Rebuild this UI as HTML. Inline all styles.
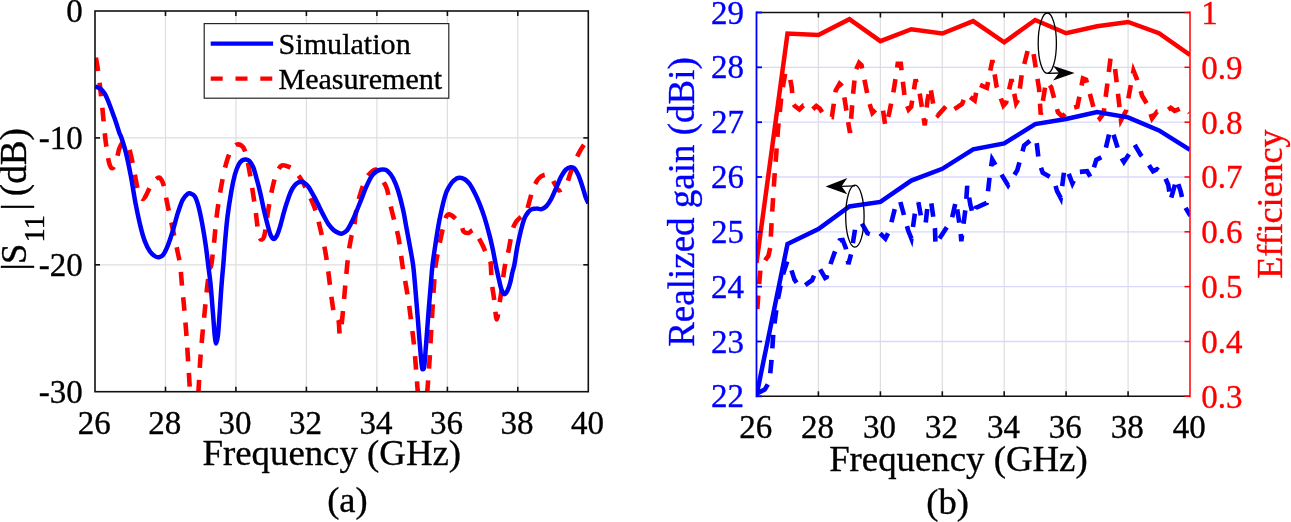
<!DOCTYPE html>
<html lang="en"><head><meta charset="utf-8"><title>S11, realized gain and efficiency</title>
<style>html,body{margin:0;padding:0;background:#fff}body{width:1291px;height:522px;overflow:hidden}svg{display:block}text{font-family:"Liberation Serif",serif}</style>
</head><body>
<svg width="1291" height="522" viewBox="0 0 1291 522">
<rect width="1291" height="522" fill="#fff"/>
<defs><clipPath id="cl"><rect x="95.0" y="11.0" width="493.3" height="380.7"/></clipPath><clipPath id="cr"><rect x="756.5" y="12.5" width="433.5" height="383.8"/></clipPath></defs>
<g stroke="#dedede" stroke-width="1.2">
<line x1="165.5" y1="11.0" x2="165.5" y2="391.7"/>
<line x1="235.9" y1="11.0" x2="235.9" y2="391.7"/>
<line x1="306.4" y1="11.0" x2="306.4" y2="391.7"/>
<line x1="376.9" y1="11.0" x2="376.9" y2="391.7"/>
<line x1="447.4" y1="11.0" x2="447.4" y2="391.7"/>
<line x1="517.8" y1="11.0" x2="517.8" y2="391.7"/>
<line x1="95.0" y1="137.9" x2="588.3" y2="137.9"/>
<line x1="95.0" y1="264.8" x2="588.3" y2="264.8"/>
</g>
<g clip-path="url(#cl)" fill="none" stroke-linejoin="round">
<path d="M95.2 53.8 C95.7 57.2 97.5 65.9 98.6 74.5 C99.8 83.1 100.9 94.6 102.1 105.5 C103.2 116.4 104.4 130.5 105.5 140.0 C106.7 149.5 107.8 157.7 109.0 162.4 C110.1 167.1 111.3 168.3 112.4 168.3 C113.6 168.3 114.7 165.7 115.9 162.4 C117.0 159.1 118.2 151.9 119.3 148.6 C120.5 145.3 121.3 143.3 122.8 142.8 C124.2 142.2 126.5 142.8 127.9 145.2 C129.4 147.6 130.2 152.4 131.4 157.2 C132.5 162.1 133.7 168.7 134.8 174.5 C136.0 180.2 137.1 187.7 138.3 191.7 C139.4 195.7 140.6 197.8 141.7 198.6 C142.9 199.5 143.7 198.9 145.2 196.9 C146.6 194.9 148.6 189.4 150.3 186.6 C152.1 183.7 153.9 181.1 155.5 179.7 C157.1 178.2 158.6 176.8 160.0 177.9 C161.4 179.1 163.0 182.7 164.1 186.6 C165.3 190.4 165.7 196.0 166.8 201.3 C167.8 206.6 169.2 212.6 170.4 218.3 C171.7 224.0 172.9 229.7 174.1 235.3 C175.3 241.0 176.7 247.4 177.7 252.4 C178.8 257.3 179.5 259.7 180.2 265.0 C180.9 270.4 181.3 278.0 181.9 284.5 C182.5 291.0 183.2 297.4 183.8 303.9 C184.4 310.4 185.0 316.9 185.5 323.4 C186.1 329.9 186.5 336.4 187.0 342.9 C187.4 349.4 187.8 355.9 188.2 362.3 C188.6 368.8 189.1 376.1 189.4 381.8 C189.8 387.5 190.0 394.0 190.2 396.4" stroke="#ff0000" stroke-width="4.6" stroke-dasharray="13.6 11.7" stroke-dashoffset="-4"/>
<path d="M198.2 396.4 C198.5 390.7 199.5 372.1 200.1 362.3 C200.8 352.6 201.4 346.1 202.1 338.0 C202.8 329.9 203.7 321.8 204.5 313.7 C205.3 305.6 206.1 296.6 206.9 289.3 C207.8 282.0 208.7 273.9 209.4 269.9 C210.1 265.8 210.5 269.9 211.3 265.0 C212.1 260.1 213.4 248.4 214.3 240.2 C215.1 232.0 215.7 224.0 216.7 215.9 C217.7 207.8 219.1 198.8 220.3 191.5 C221.6 184.2 222.8 177.5 224.0 172.1 C225.2 166.6 226.4 162.3 227.6 158.7 C228.9 155.0 229.9 152.5 231.3 150.2 C232.7 147.9 234.5 145.6 236.2 144.8 C237.8 144.0 239.6 144.4 241.0 145.3 C242.4 146.2 243.5 146.9 244.7 150.2 C245.9 153.4 247.1 158.7 248.3 164.8 C249.5 170.9 250.8 179.0 252.0 186.7 C253.2 194.4 254.6 203.7 255.6 211.0 C256.6 218.3 257.2 225.8 258.1 230.5 C258.9 235.1 259.5 238.0 260.5 239.0 C261.5 240.0 263.1 239.6 264.1 236.6 C265.2 233.5 265.6 227.0 266.6 220.7 C267.6 214.5 269.0 205.3 270.2 198.8 C271.4 192.4 272.7 186.5 273.9 181.8 C275.1 177.1 276.1 173.6 277.5 170.9 C278.9 168.1 280.4 165.9 282.4 165.3 C284.4 164.6 287.7 166.3 289.7 167.2 C291.7 168.1 292.5 168.6 294.6 170.9 C296.6 173.1 299.4 176.5 301.9 180.6 C304.3 184.6 307.1 190.9 309.2 195.2 C311.2 199.5 312.6 202.3 314.0 206.1 C315.5 210.0 316.5 213.8 317.7 218.3 C318.9 222.8 320.1 227.6 321.3 232.9 C322.5 238.2 324.0 244.6 325.0 249.9 C326.0 255.3 326.7 259.9 327.4 265.0 C328.2 270.1 328.7 274.9 329.4 280.6 C330.1 286.2 331.0 293.4 331.7 299.0 C332.5 304.5 333.3 310.7 334.0 313.9 C334.8 317.2 335.6 317.4 336.3 318.5 C337.1 319.7 338.0 318.1 338.6 320.8 C339.2 323.5 339.3 334.0 339.8 334.6 C340.3 335.2 341.0 328.7 341.6 324.3 C342.2 319.8 342.6 315.1 343.2 308.2 C343.9 301.3 344.7 291.7 345.5 282.9 C346.4 274.1 347.3 263.0 348.3 255.3 C349.2 247.6 350.4 241.1 351.3 236.9 C352.1 232.7 352.7 234.7 353.6 230.0 C354.5 225.3 355.5 214.6 356.6 208.6 C357.7 202.6 358.8 198.6 360.3 194.0 C361.7 189.3 363.5 184.0 365.1 180.6 C366.7 177.1 368.2 175.1 370.0 173.3 C371.8 171.5 374.4 169.4 376.1 169.6 C377.7 169.8 378.5 172.5 379.7 174.5 C380.9 176.5 382.2 179.4 383.4 181.8 C384.6 184.2 385.8 185.1 387.0 189.1 C388.2 193.2 389.5 200.9 390.7 206.1 C391.9 211.4 393.1 215.9 394.3 220.7 C395.5 225.6 397.0 230.5 398.0 235.3 C399.0 240.2 399.7 245.0 400.4 249.9 C401.1 254.9 401.5 259.3 402.4 265.0 C403.2 270.8 404.7 278.0 405.8 284.5 C406.9 291.0 408.0 297.4 408.9 303.9 C409.9 310.4 410.5 316.9 411.4 323.4 C412.2 329.9 413.1 336.4 413.8 342.9 C414.5 349.4 415.0 355.9 415.5 362.3 C416.0 368.8 416.5 376.1 417.0 381.8 C417.4 387.5 418.0 394.0 418.2 396.4" stroke="#ff0000" stroke-width="4.6" stroke-dasharray="13.6 11.7" stroke-dashoffset="-3"/>
<path d="M426.9 396.4 C427.3 391.6 428.5 376.9 429.1 367.2 C429.8 357.5 430.3 347.7 430.8 338.0 C431.4 328.3 432.0 317.7 432.5 308.8 C433.1 299.9 433.5 291.8 434.0 284.5 C434.5 277.2 434.8 271.6 435.7 265.0 C436.6 258.4 438.1 251.2 439.3 245.1 C440.6 238.9 441.8 232.9 443.0 228.0 C444.2 223.2 445.4 218.1 446.6 215.9 C447.9 213.6 448.9 214.3 450.3 214.7 C451.7 215.1 453.3 216.5 455.2 218.3 C457.0 220.1 459.8 223.4 461.3 225.6 C462.7 227.8 462.5 230.5 463.7 231.7 C464.9 232.9 466.9 233.2 468.6 232.9 C470.2 232.6 472.0 229.6 473.4 230.0 C474.8 230.4 475.6 233.0 477.1 235.3 C478.5 237.7 480.3 240.6 481.9 243.9 C483.6 247.1 485.4 251.8 486.8 254.8 C488.2 257.9 489.6 257.6 490.5 262.1 C491.3 266.7 491.1 275.9 491.7 282.0 C492.3 288.2 493.3 292.8 494.1 299.1 C495.0 305.3 495.8 319.5 496.8 319.5 C497.8 319.5 499.2 305.3 500.2 299.1 C501.2 292.8 501.8 287.7 502.6 282.0 C503.4 276.4 504.0 270.3 505.1 265.0 C506.1 259.7 507.5 255.7 508.7 249.9 C509.9 244.2 511.1 235.1 512.4 230.5 C513.6 225.8 514.6 224.2 516.0 222.0 C517.4 219.7 519.3 218.5 520.9 217.1 C522.5 215.7 524.3 216.1 525.7 213.4 C527.2 210.8 528.2 205.3 529.4 201.3 C530.6 197.2 531.6 192.8 533.0 189.1 C534.5 185.5 536.1 181.7 537.9 179.4 C539.7 177.0 542.0 175.6 544.0 175.0 C546.0 174.4 548.3 174.2 550.1 175.7 C551.9 177.3 553.5 181.8 554.9 184.2 C556.4 186.7 557.2 189.7 558.6 190.3 C560.0 190.9 562.0 189.1 563.5 187.9 C564.9 186.7 565.9 185.7 567.1 183.0 C568.3 180.4 569.3 175.9 570.8 172.1 C572.2 168.2 574.0 163.6 575.6 159.9 C577.3 156.3 578.9 153.0 580.5 150.2 C582.1 147.3 584.2 144.6 585.4 142.9 C586.5 141.2 587.0 140.4 587.3 139.9" stroke="#ff0000" stroke-width="4.6" stroke-dasharray="13.6 11.7" stroke-dashoffset="-2.5"/>
<path d="M95.0 86.4 C95.8 86.8 98.2 87.2 99.9 88.4 C101.5 89.6 103.1 91.0 104.7 93.7 C106.4 96.5 108.0 100.6 109.6 104.7 C111.2 108.8 112.8 113.4 114.5 118.1 C116.1 122.7 118.2 129.4 119.3 132.7 C120.5 136.0 120.4 134.7 121.5 138.0 C122.6 141.3 124.3 146.1 125.9 152.6 C127.5 159.1 129.4 168.4 131.0 176.9 C132.6 185.5 134.1 195.6 135.6 203.7 C137.2 211.8 138.7 219.3 140.3 225.6 C141.8 231.9 143.3 237.2 144.9 241.4 C146.5 245.7 148.1 248.7 149.8 251.2 C151.4 253.6 153.1 255.0 154.6 256.0 C156.1 257.0 157.3 257.5 158.8 257.3 C160.2 257.0 161.6 256.8 163.1 254.8 C164.7 252.8 166.4 249.1 168.0 245.1 C169.6 241.0 171.3 235.8 172.9 230.5 C174.5 225.2 176.1 218.5 177.7 213.4 C179.4 208.4 181.0 203.3 182.6 200.1 C184.2 196.8 186.1 195.1 187.5 194.0 C188.8 192.9 189.4 193.1 190.6 193.5 C191.9 193.9 193.5 194.3 194.8 196.4 C196.1 198.5 197.2 201.7 198.4 206.1 C199.6 210.6 200.9 216.7 202.1 223.2 C203.3 229.7 204.7 238.1 205.7 245.1 C206.7 252.1 207.4 258.4 208.2 265.0 C209.0 271.6 209.8 276.4 210.6 284.5 C211.4 292.6 212.3 305.2 213.0 313.7 C213.7 322.2 214.2 330.6 214.7 335.6 C215.3 340.5 215.7 343.4 216.2 343.4 C216.7 343.4 217.3 340.5 217.9 335.6 C218.5 330.6 219.0 322.2 219.6 313.7 C220.2 305.2 220.9 292.6 221.6 284.5 C222.2 276.4 222.6 272.4 223.3 265.0 C223.9 257.6 224.5 248.4 225.2 240.2 C225.9 232.0 226.6 224.0 227.6 215.9 C228.6 207.8 230.1 198.4 231.3 191.5 C232.5 184.6 233.7 179.0 234.9 174.5 C236.2 170.0 237.4 167.1 238.6 164.8 C239.8 162.4 241.0 161.3 242.2 160.4 C243.5 159.5 244.7 159.3 245.9 159.4 C247.1 159.5 248.3 159.8 249.5 161.1 C250.8 162.4 252.0 164.2 253.2 167.2 C254.4 170.2 255.6 174.9 256.8 179.4 C258.1 183.8 259.3 188.7 260.5 194.0 C261.7 199.2 262.9 205.7 264.1 211.0 C265.4 216.3 266.7 221.6 267.8 225.6 C268.9 229.7 269.7 233.1 270.7 235.3 C271.7 237.6 272.8 239.0 273.9 239.0 C274.9 239.0 276.0 237.4 277.0 235.3 C278.1 233.3 278.9 230.5 280.0 226.8 C281.1 223.2 282.4 217.7 283.6 213.4 C284.8 209.2 286.0 204.9 287.3 201.3 C288.5 197.6 289.7 194.2 290.9 191.5 C292.1 188.9 293.3 187.0 294.6 185.5 C295.8 184.0 297.0 183.1 298.2 182.5 C299.4 181.9 300.6 181.6 301.9 181.8 C303.1 182.0 304.3 182.7 305.5 183.8 C306.7 184.8 307.7 185.8 309.2 187.9 C310.6 190.0 312.4 193.4 314.0 196.4 C315.7 199.5 317.3 202.9 318.9 206.1 C320.5 209.4 322.1 212.8 323.8 215.9 C325.4 218.9 327.0 222.0 328.6 224.4 C330.3 226.7 331.9 228.6 333.5 230.0 C335.1 231.4 337.0 232.3 338.4 232.9 C339.8 233.5 340.6 234.0 342.0 233.6 C343.4 233.2 345.2 232.4 346.9 230.5 C348.5 228.5 350.1 225.2 351.7 222.0 C353.4 218.7 355.0 214.9 356.6 211.0 C358.2 207.2 359.8 202.9 361.5 198.8 C363.1 194.8 364.7 190.3 366.3 186.7 C368.0 183.0 369.6 179.5 371.2 176.9 C372.8 174.4 374.4 172.8 376.1 171.6 C377.7 170.4 379.5 170.0 380.9 169.6 C382.4 169.3 383.4 169.3 384.6 169.6 C385.8 170.0 386.8 170.2 388.2 171.6 C389.7 173.0 391.5 175.0 393.1 178.2 C394.7 181.3 396.4 185.3 398.0 190.3 C399.6 195.4 401.4 202.3 402.8 208.6 C404.3 214.9 405.3 221.6 406.5 228.0 C407.7 234.5 409.0 241.4 410.1 247.5 C411.2 253.7 412.3 258.8 413.1 265.0 C413.9 271.2 414.3 276.4 415.0 284.5 C415.7 292.6 416.6 303.5 417.4 313.7 C418.3 323.8 419.1 336.6 419.9 345.3 C420.6 354.0 421.3 362.0 421.8 366.0 C422.3 370.0 422.4 369.2 422.8 369.2 C423.2 369.2 423.7 370.0 424.3 366.0 C424.8 362.0 425.3 354.0 426.0 345.3 C426.7 336.6 427.6 323.8 428.4 313.7 C429.2 303.5 430.1 292.6 430.8 284.5 C431.5 276.4 431.7 272.0 432.5 265.0 C433.3 258.0 434.6 250.0 435.7 242.6 C436.8 235.3 438.1 227.2 439.3 220.7 C440.6 214.3 441.8 208.6 443.0 203.7 C444.2 198.8 445.2 195.0 446.6 191.5 C448.1 188.1 449.9 185.2 451.5 183.0 C453.1 180.9 454.9 179.5 456.4 178.6 C457.9 177.8 459.1 177.5 460.5 177.7 C461.9 177.8 463.4 178.3 464.9 179.4 C466.4 180.5 468.1 182.0 469.8 184.2 C471.4 186.5 473.0 189.5 474.6 192.8 C476.3 196.0 477.9 199.7 479.5 203.7 C481.1 207.8 482.7 212.0 484.4 217.1 C486.0 222.2 487.8 228.7 489.2 234.1 C490.7 239.6 491.8 244.8 492.9 249.9 C494.0 255.1 494.8 260.1 495.8 265.0 C496.8 269.9 498.0 275.5 499.0 279.6 C499.9 283.7 500.5 286.9 501.4 289.3 C502.3 291.8 503.3 294.0 504.3 294.2 C505.3 294.4 506.5 292.6 507.5 290.6 C508.5 288.5 509.6 285.1 510.4 282.0 C511.2 279.0 511.7 275.1 512.4 272.3 C513.0 269.5 513.5 269.1 514.3 265.0 C515.1 260.9 516.1 253.3 517.2 247.5 C518.3 241.8 519.7 235.3 520.9 230.5 C522.1 225.6 523.3 221.4 524.5 218.3 C525.7 215.3 527.0 213.7 528.2 212.2 C529.4 210.7 530.4 209.9 531.8 209.3 C533.2 208.7 535.1 208.6 536.7 208.6 C538.3 208.5 539.9 209.5 541.6 209.1 C543.2 208.7 544.8 207.8 546.4 206.1 C548.1 204.4 549.7 201.9 551.3 198.8 C552.9 195.8 554.5 191.5 556.2 187.9 C557.8 184.2 559.4 180.0 561.0 176.9 C562.7 173.9 564.3 171.3 565.9 169.6 C567.5 168.0 569.3 167.4 570.8 167.2 C572.2 167.0 573.2 167.2 574.4 168.4 C575.6 169.6 576.9 171.9 578.1 174.5 C579.3 177.1 580.5 180.6 581.7 184.2 C582.9 187.9 584.3 193.2 585.4 196.4 C586.5 199.6 587.8 202.1 588.3 203.2" stroke="#0000ff" stroke-width="4.5"/>
</g>
<g stroke="#111" stroke-width="1.6" fill="none">
<rect x="95.0" y="11.0" width="493.3" height="380.7"/>
<line x1="165.5" y1="391.7" x2="165.5" y2="386.7"/>
<line x1="165.5" y1="11.0" x2="165.5" y2="16.0"/>
<line x1="235.9" y1="391.7" x2="235.9" y2="386.7"/>
<line x1="235.9" y1="11.0" x2="235.9" y2="16.0"/>
<line x1="306.4" y1="391.7" x2="306.4" y2="386.7"/>
<line x1="306.4" y1="11.0" x2="306.4" y2="16.0"/>
<line x1="376.9" y1="391.7" x2="376.9" y2="386.7"/>
<line x1="376.9" y1="11.0" x2="376.9" y2="16.0"/>
<line x1="447.4" y1="391.7" x2="447.4" y2="386.7"/>
<line x1="447.4" y1="11.0" x2="447.4" y2="16.0"/>
<line x1="517.8" y1="391.7" x2="517.8" y2="386.7"/>
<line x1="517.8" y1="11.0" x2="517.8" y2="16.0"/>
<line x1="95.0" y1="137.9" x2="100.0" y2="137.9"/>
<line x1="588.3" y1="137.9" x2="583.3" y2="137.9"/>
<line x1="95.0" y1="264.8" x2="100.0" y2="264.8"/>
<line x1="588.3" y1="264.8" x2="583.3" y2="264.8"/>
</g>
<rect x="204.2" y="23.6" width="244.6" height="74.6" fill="#fff" stroke="#262626" stroke-width="1.2"/>
<line x1="210.7" y1="43.6" x2="273.1" y2="43.6" stroke="#0000ff" stroke-width="4.2"/>
<line x1="210.7" y1="78.6" x2="273.1" y2="78.6" stroke="#ff0000" stroke-width="4.2" stroke-dasharray="12 12.8"/>
<g font-size="30.1" fill="#000" stroke="#000" stroke-width="0.35"><text x="278.6" y="54.3">Simulation</text><text x="278.4" y="88.9">Measurement</text></g>
<g font-size="33" fill="#000" stroke="#000" stroke-width="0.35">
<text x="94.2" y="433.8" text-anchor="middle">26</text>
<text x="164.7" y="433.8" text-anchor="middle">28</text>
<text x="235.1" y="433.8" text-anchor="middle">30</text>
<text x="305.6" y="433.8" text-anchor="middle">32</text>
<text x="376.1" y="433.8" text-anchor="middle">34</text>
<text x="446.6" y="433.8" text-anchor="middle">36</text>
<text x="517.0" y="433.8" text-anchor="middle">38</text>
<text x="587.5" y="433.8" text-anchor="middle">40</text>
<text x="82.8" y="22.0" text-anchor="end">0</text>
<text x="82.8" y="148.9" text-anchor="end">-10</text>
<text x="82.8" y="275.8" text-anchor="end">-20</text>
<text x="82.8" y="402.7" text-anchor="end">-30</text>
</g>
<g font-size="36.5" fill="#000" stroke="#000" stroke-width="0.35">
<text x="331.8" y="465.3" text-anchor="middle" font-size="36.8">Frequency (GHz)</text>
<text x="347.4" y="512.4" text-anchor="middle">(a)</text>
<text transform="translate(26 268) rotate(-90)"><tspan x="-2.6">|</tspan><tspan x="4.1">S</tspan><tspan x="25.6" dy="17.5" font-size="28.5">11</tspan><tspan x="57.5" dy="-17.5">|</tspan><tspan x="71.8" font-size="37.2">(dB)</tspan></text>
</g>
<g stroke="#dedede" stroke-width="1.2">
<line x1="818.4" y1="12.5" x2="818.4" y2="396.3"/>
<line x1="880.4" y1="12.5" x2="880.4" y2="396.3"/>
<line x1="942.3" y1="12.5" x2="942.3" y2="396.3"/>
<line x1="1004.2" y1="12.5" x2="1004.2" y2="396.3"/>
<line x1="1066.1" y1="12.5" x2="1066.1" y2="396.3"/>
<line x1="1128.1" y1="12.5" x2="1128.1" y2="396.3"/>
</g><g stroke="#d8d8ff" stroke-width="1.3">
<line x1="756.5" y1="341.5" x2="1190.0" y2="341.5"/>
<line x1="756.5" y1="286.6" x2="1190.0" y2="286.6"/>
<line x1="756.5" y1="231.8" x2="1190.0" y2="231.8"/>
<line x1="756.5" y1="177.0" x2="1190.0" y2="177.0"/>
<line x1="756.5" y1="122.2" x2="1190.0" y2="122.2"/>
<line x1="756.5" y1="67.3" x2="1190.0" y2="67.3"/>
</g>
<g clip-path="url(#cr)" fill="none" stroke-linejoin="miter">
<path d="M757.3 309.0 L758.5 292.0 L759.5 280.0 L760.5 269.0 L766.0 259.0 L768.4 256.0 L770.2 248.0 L772.0 215.0 L774.8 172.0 L776.4 152.0 L778.0 129.0 L781.0 100.0 L783.5 83.0 L785.5 72.0 L789.6 75.9 L791.7 87.1 L793.1 103.4 L794.8 106.0 L799.4 109.5 L803.4 105.5 L807.2 105.2 L812.0 110.0 L816.3 106.0 L819.8 108.6 L824.1 115.5 L831.9 116.9 L835.7 90.5 L839.6 83.6 L842.7 86.6 L848.2 122.4 L850.0 132.8 L852.9 95.7 L855.5 70.7 L859.1 62.9 L861.5 65.2 L868.9 101.7 L872.4 112.9 L878.8 106.6 L882.7 107.8 L885.3 125.9 L889.1 113.8 L893.9 89.3 L897.7 63.8 L900.8 63.8 L905.1 100.9 L908.6 109.5 L911.2 106.6 L915.6 79.3 L919.5 92.4 L924.8 125.3 L927.6 99.3 L930.3 86.7 L934.5 112.0 L937.9 115.4 L947.1 105.1 L952.9 110.1 L962.1 103.9 L966.2 94.0 L974.7 100.5 L977.7 83.9 L986.9 87.8 L992.4 60.2 L996.6 86.7 L1003.4 105.5 L1006.2 102.3 L1011.5 79.3 L1016.1 103.2 L1018.4 99.3 L1021.8 74.0 L1028.3 48.0 L1033.3 52.2 L1039.1 89.0 L1040.7 114.7 L1046.0 81.6 L1047.5 82.3 L1051.2 87.3 L1057.9 112.2 L1062.4 116.7 L1070.4 108.4 L1077.4 106.7 L1082.9 78.5 L1086.1 79.8 L1094.8 112.2 L1099.8 118.4 L1103.6 113.4 L1110.5 58.6 L1114.8 66.1 L1121.0 120.2 L1126.0 110.9 L1133.5 70.6 L1137.2 79.8 L1142.2 96.0 L1147.2 104.2 L1152.1 118.4 L1157.1 111.7 L1164.6 112.2 L1170.8 107.9 L1174.6 110.9 L1180.8 108.4 L1184.5 107.2 L1189.5 112.7" stroke="#ff0000" stroke-width="4.6" stroke-dasharray="13.5 11.5"/>
<path d="M756.5 263.0 L787.5 33.6 L818.4 34.9 L849.4 19.2 L880.4 41.1 L911.3 29.2 L942.3 33.5 L973.2 21.1 L1004.2 42.3 L1035.2 20.0 L1066.1 33.2 L1097.1 26.2 L1128.1 22.0 L1159.0 33.2 L1190.0 54.9" stroke="#ff0000" stroke-width="4.5"/>
<path d="M758.1 392.9 L764.7 389.6 L769.5 381.5 L771.5 360.3 L773.5 331.0 L777.7 300.0 L782.6 275.6 L787.5 260.6 L790.2 266.1 L794.4 279.4 L799.0 286.3 L802.1 287.5 L812.1 280.2 L816.7 269.4 L819.3 267.9 L825.1 277.9 L826.6 277.1 L830.5 264.1 L834.3 253.4 L839.7 240.3 L842.7 240.0 L845.8 248.0 L848.4 264.1 L851.1 254.1 L855.0 229.6 L856.7 225.2 L861.3 222.5 L867.4 233.2 L876.0 235.9 L880.0 233.2 L885.4 238.6 L889.4 230.5 L896.1 203.7 L900.1 201.0 L908.2 230.5 L911.4 238.6 L914.9 213.1 L918.4 202.4 L921.6 219.8 L925.6 223.8 L927.5 206.4 L931.0 201.0 L935.0 229.2 L935.5 245.3 L940.3 237.2 L951.6 219.8 L955.9 201.0 L960.5 230.5 L961.3 241.3 L965.8 206.4 L967.2 185.8 L970.4 205.1 L973.1 215.3 L975.7 207.7 L978.1 206.9 L986.7 202.9 L989.7 176.2 L992.2 159.4 L995.9 165.5 L1008.1 185.4 L1017.3 170.1 L1024.1 145.6 L1033.3 137.9 L1036.3 139.4 L1038.8 160.9 L1042.7 172.8 L1053.4 178.9 L1057.1 191.1 L1060.7 197.9 L1064.1 171.2 L1066.6 168.2 L1072.4 183.5 L1077.9 172.1 L1087.1 171.2 L1090.8 177.4 L1096.3 159.9 L1104.0 155.9 L1110.1 129.8 L1112.2 130.5 L1120.2 155.9 L1123.9 162.0 L1130.0 152.8 L1134.6 144.6 L1140.7 155.0 L1147.8 163.6 L1153.0 171.2 L1157.0 169.1 L1163.7 174.3 L1168.3 185.0 L1170.5 200.3 L1176.6 178.9 L1180.6 191.1 L1183.7 204.9 L1190.4 215.7" stroke="#0000ff" stroke-width="4.6" stroke-dasharray="13.5 11.5"/>
<path d="M756.5 395.5 L787.5 244.0 L818.4 229.0 L849.4 206.4 L880.4 201.9 L911.3 180.6 L942.3 168.8 L973.2 149.3 L1004.2 143.4 L1035.2 124.1 L1066.1 119.0 L1097.1 112.1 L1128.1 117.4 L1159.0 130.4 L1190.0 149.8" stroke="#0000ff" stroke-width="4.5"/>
</g>
<g stroke="#111" stroke-width="1.6">
<line x1="756.5" y1="12.5" x2="1190.0" y2="12.5"/>
<line x1="756.5" y1="396.3" x2="1190.0" y2="396.3"/>
<line x1="818.4" y1="396.3" x2="818.4" y2="391.3"/>
<line x1="818.4" y1="12.5" x2="818.4" y2="17.5"/>
<line x1="880.4" y1="396.3" x2="880.4" y2="391.3"/>
<line x1="880.4" y1="12.5" x2="880.4" y2="17.5"/>
<line x1="942.3" y1="396.3" x2="942.3" y2="391.3"/>
<line x1="942.3" y1="12.5" x2="942.3" y2="17.5"/>
<line x1="1004.2" y1="396.3" x2="1004.2" y2="391.3"/>
<line x1="1004.2" y1="12.5" x2="1004.2" y2="17.5"/>
<line x1="1066.1" y1="396.3" x2="1066.1" y2="391.3"/>
<line x1="1066.1" y1="12.5" x2="1066.1" y2="17.5"/>
<line x1="1128.1" y1="396.3" x2="1128.1" y2="391.3"/>
<line x1="1128.1" y1="12.5" x2="1128.1" y2="17.5"/>
</g>
<g stroke="#0000ff" stroke-width="1.8">
<line x1="756.5" y1="11.6" x2="756.5" y2="397.2"/>
<line x1="756.5" y1="396.3" x2="762.0" y2="396.3"/>
<line x1="756.5" y1="341.5" x2="762.0" y2="341.5"/>
<line x1="756.5" y1="286.6" x2="762.0" y2="286.6"/>
<line x1="756.5" y1="231.8" x2="762.0" y2="231.8"/>
<line x1="756.5" y1="177.0" x2="762.0" y2="177.0"/>
<line x1="756.5" y1="122.2" x2="762.0" y2="122.2"/>
<line x1="756.5" y1="67.3" x2="762.0" y2="67.3"/>
<line x1="756.5" y1="12.5" x2="762.0" y2="12.5"/>
</g>
<g stroke="#ff0000" stroke-width="1.5">
<line x1="1190.0" y1="11.6" x2="1190.0" y2="397.2"/>
<line x1="1190.0" y1="396.3" x2="1184.5" y2="396.3"/>
<line x1="1190.0" y1="341.5" x2="1184.5" y2="341.5"/>
<line x1="1190.0" y1="286.6" x2="1184.5" y2="286.6"/>
<line x1="1190.0" y1="231.8" x2="1184.5" y2="231.8"/>
<line x1="1190.0" y1="177.0" x2="1184.5" y2="177.0"/>
<line x1="1190.0" y1="122.2" x2="1184.5" y2="122.2"/>
<line x1="1190.0" y1="67.3" x2="1184.5" y2="67.3"/>
<line x1="1190.0" y1="12.5" x2="1184.5" y2="12.5"/>
</g>
<g stroke="#000" stroke-width="1.3" fill="none">
<ellipse cx="1047.3" cy="43.2" rx="9.1" ry="30.2"/>
<line x1="1047.5" y1="73.3" x2="1060" y2="73"/>
<ellipse cx="854.9" cy="216.2" rx="9.2" ry="31"/>
<line x1="855" y1="185.8" x2="841" y2="186.3"/>
</g>
<path d="M1074.6 72.9 L1053 65.8 L1059 73 L1053 80.4 Z" fill="#000"/>
<path d="M825.6 186.5 L847.3 178.1 L841.5 186.3 L847.3 194.2 Z" fill="#000"/>
<g font-size="33" fill="#000" stroke="#000" stroke-width="0.35">
<text x="755.7" y="437.8" text-anchor="middle">26</text>
<text x="817.6" y="437.8" text-anchor="middle">28</text>
<text x="879.6" y="437.8" text-anchor="middle">30</text>
<text x="941.5" y="437.8" text-anchor="middle">32</text>
<text x="1003.4" y="437.8" text-anchor="middle">34</text>
<text x="1065.3" y="437.8" text-anchor="middle">36</text>
<text x="1127.3" y="437.8" text-anchor="middle">38</text>
<text x="1189.2" y="437.8" text-anchor="middle">40</text>
</g>
<g font-size="33" fill="#0000ff" stroke="#0000ff" stroke-width="0.35">
<text x="744" y="407.3" text-anchor="end">22</text>
<text x="744" y="352.5" text-anchor="end">23</text>
<text x="744" y="297.6" text-anchor="end">24</text>
<text x="744" y="242.8" text-anchor="end">25</text>
<text x="744" y="188.0" text-anchor="end">26</text>
<text x="744" y="133.2" text-anchor="end">27</text>
<text x="744" y="78.3" text-anchor="end">28</text>
<text x="744" y="23.5" text-anchor="end">29</text>
</g>
<g font-size="33" fill="#ff0000" stroke="#ff0000" stroke-width="0.35">
<text x="1201.2" y="407.7">0.3</text>
<text x="1201.2" y="352.9">0.4</text>
<text x="1201.2" y="298.0">0.5</text>
<text x="1201.2" y="243.2">0.6</text>
<text x="1201.2" y="188.4">0.7</text>
<text x="1201.2" y="133.6">0.8</text>
<text x="1201.2" y="78.7">0.9</text>
<text x="1201.2" y="23.9">1</text>
</g>
<g font-size="36.5" stroke-width="0.35">
<text x="958.4" y="471.2" text-anchor="middle" fill="#000" stroke="#000" font-size="36.8">Frequency (GHz)</text>
<text x="947.6" y="513.5" text-anchor="middle" fill="#000" stroke="#000">(b)</text>
<text transform="translate(693.6 202) rotate(-90)" text-anchor="middle" fill="#0000ff" stroke="#0000ff" font-size="37">Realized gain (dBi)</text>
<text transform="translate(1281.8 204.2) rotate(-90)" text-anchor="middle" fill="#ff0000" stroke="#ff0000" font-size="36">Efficiency</text>
</g>
</svg></body></html>
